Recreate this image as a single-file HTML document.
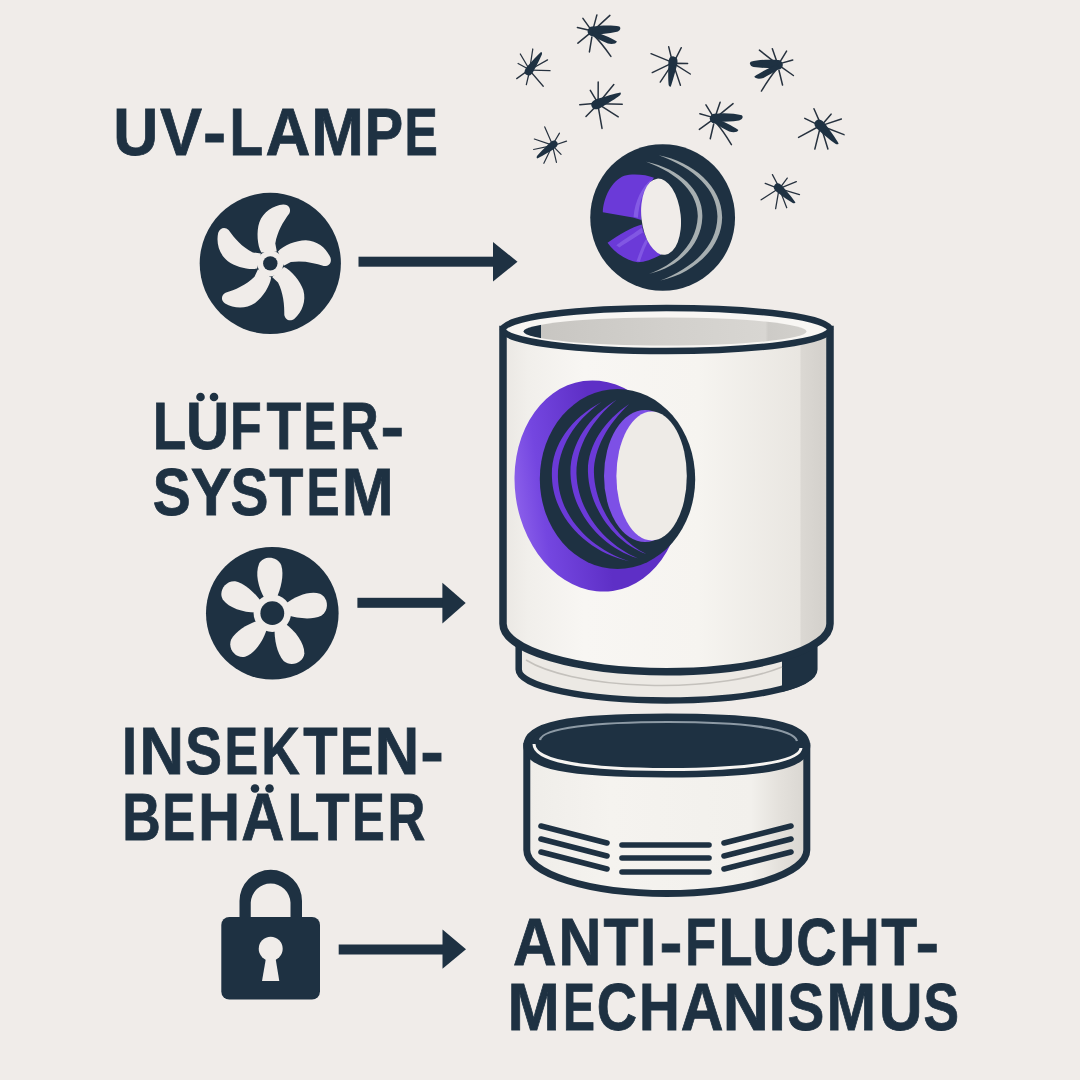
<!DOCTYPE html>
<html><head><meta charset="utf-8">
<style>
html,body{margin:0;padding:0;width:1080px;height:1080px;overflow:hidden;background:#F0ECE9;}
svg{display:block;}
.t{font-family:"Liberation Sans",sans-serif;font-weight:bold;font-size:66px;fill:#1E3142;stroke:#1E3142;stroke-width:0.8px;}
</style></head>
<body>
<svg width="1080" height="1080" viewBox="0 0 1080 1080">
<defs>
  <path id="b1" d="M -9,-11 C -13,-18 -14,-32 -11,-41 C -7,-52 3,-58 13,-59 C 19,-59 21,-54 19,-50 C 13,-42 7,-32 5,-20 L 6.5,-12 Z"/>
  <path id="b2" d="M -7,-14 C -13.5,-26 -16.5,-40 -12,-50 C -7.5,-57.5 5.5,-57.5 10,-48 C 13,-38 9,-24 4.5,-15 Z"/>
  <g id="mq">
    <g stroke="#27323F" stroke-width="1.5" stroke-linecap="round" fill="none">
      <path d="M1,-3 L4.5,-16 M5,-4 L17.5,-15.5 M-2,-2 L-9.5,-12.5 M-2,-0.5 L-15,-3.3 M-2,2 L-14.5,12.3 M-0.5,6 L-3,21 M2,5 Q9,12 18.5,25.5"/>
    </g>
    <ellipse cx="0" cy="0.5" rx="4.8" ry="4.8" fill="#1E3142"/>
    <path d="M0,-4.2 C8,-5.8 20,-6 27,-4.5 C29,-3 27.5,0 24.5,0.8 C16,2.5 8,3.5 0,3.8 Z" fill="#1E3142"/>
    <path d="M1,0.5 C8,2.5 18,6.5 24.5,10.5 C24,13 19,13.5 15.5,12.5 C10,10 5,8 0,5 Z" fill="#1E3142"/>
  </g>
  <g id="mq2">
    <g stroke="#27323F" stroke-width="1.5" stroke-linecap="round" fill="none">
      <path d="M1,-1 L-15,-7 M2,-2 L0.8,-15.5 M3,-2 L11.5,-19.5 M4,-1 L24.5,-10.5 M4,1 L23.5,11 M3,2 L14.5,20.5 M1,2 L-5.2,24 M0,1 L-14.5,6.3"/>
    </g>
    <path d="M-5,0 C-5,-4.8 0,-5.2 4.5,-4.5 C12,-3.2 22,-2 27,-0.5 C27.5,0.5 26.5,1.5 25,2 C20,3 12,4 4.5,4.5 C0,5.2 -5,4.8 -5,0 Z" fill="#1E3142"/>
  </g>
</defs>

<!-- TEXT -->
<text class="t" transform="translate(113.25,155.3) scale(0.9453,1)">U</text>
<text class="t" transform="translate(160.07,155.3) scale(0.9555,1)">V</text>
<text class="t" transform="translate(202.89,155.3) scale(1.0503,1)">-</text>
<text class="t" transform="translate(229.51,155.3) scale(0.8355,1)">L</text>
<text class="t" transform="translate(265.55,155.3) scale(0.9417,1)">A</text>
<text class="t" transform="translate(311.17,155.3) scale(0.9578,1)">M</text>
<text class="t" transform="translate(364.85,155.3) scale(0.8728,1)">P</text>
<text class="t" transform="translate(404.56,155.3) scale(0.7562,1)">E</text>
<text class="t" transform="translate(152.74,448.9) scale(0.8296,1)">L</text>
<text class="t" transform="translate(185.91,448.9) scale(0.9049,1)">U</text>
<text class="t" transform="translate(229.93,448.9) scale(0.7855,1)">F</text>
<text class="t" transform="translate(266.56,448.9) scale(0.8594,1)">T</text>
<text class="t" transform="translate(303.60,448.9) scale(0.7481,1)">E</text>
<text class="t" transform="translate(340.13,448.9) scale(0.8092,1)">R</text>
<text class="t" transform="translate(380.53,448.9) scale(1.0741,1)">-</text>
<text class="t" transform="translate(152.76,515.0) scale(0.8624,1)">S</text>
<text class="t" transform="translate(190.65,515.0) scale(0.9323,1)">Y</text>
<text class="t" transform="translate(230.46,515.0) scale(0.8624,1)">S</text>
<text class="t" transform="translate(269.17,515.0) scale(0.8465,1)">T</text>
<text class="t" transform="translate(306.47,515.0) scale(0.7535,1)">E</text>
<text class="t" transform="translate(341.83,515.0) scale(0.9448,1)">M</text>
<text class="t" transform="translate(121.88,774.3) scale(0.8205,1)">I</text>
<text class="t" transform="translate(139.48,774.3) scale(0.9330,1)">N</text>
<text class="t" transform="translate(185.31,774.3) scale(0.8346,1)">S</text>
<text class="t" transform="translate(224.43,774.3) scale(0.7643,1)">E</text>
<text class="t" transform="translate(261.23,774.3) scale(0.8092,1)">K</text>
<text class="t" transform="translate(303.37,774.3) scale(0.8517,1)">T</text>
<text class="t" transform="translate(340.03,774.3) scale(0.7643,1)">E</text>
<text class="t" transform="translate(374.68,774.3) scale(0.9330,1)">N</text>
<text class="t" transform="translate(420.13,774.3) scale(1.0741,1)">-</text>
<text class="t" transform="translate(122.24,840.3) scale(0.8074,1)">B</text>
<text class="t" transform="translate(162.53,840.3) scale(0.7400,1)">E</text>
<text class="t" transform="translate(198.23,840.3) scale(0.8763,1)">H</text>
<text class="t" transform="translate(241.31,840.3) scale(0.9056,1)">A</text>
<text class="t" transform="translate(287.63,840.3) scale(0.7854,1)">L</text>
<text class="t" transform="translate(315.68,840.3) scale(0.8388,1)">T</text>
<text class="t" transform="translate(352.34,840.3) scale(0.7373,1)">E</text>
<text class="t" transform="translate(387.59,840.3) scale(0.7949,1)">R</text>
<text class="t" transform="translate(513.10,965.3) scale(0.9146,1)">A</text>
<text class="t" transform="translate(558.43,965.3) scale(0.8995,1)">N</text>
<text class="t" transform="translate(603.56,965.3) scale(0.8697,1)">T</text>
<text class="t" transform="translate(640.00,965.3) scale(0.8836,1)">I</text>
<text class="t" transform="translate(659.61,965.3) scale(1.0443,1)">-</text>
<text class="t" transform="translate(685.31,965.3) scale(0.7675,1)">F</text>
<text class="t" transform="translate(718.80,965.3) scale(0.8385,1)">L</text>
<text class="t" transform="translate(752.23,965.3) scale(0.8999,1)">U</text>
<text class="t" transform="translate(796.20,965.3) scale(0.8505,1)">C</text>
<text class="t" transform="translate(839.59,965.3) scale(0.8402,1)">H</text>
<text class="t" transform="translate(881.24,965.3) scale(0.8903,1)">T</text>
<text class="t" transform="translate(915.53,965.3) scale(1.0741,1)">-</text>
<text class="t" transform="translate(507.60,1029.8) scale(0.9513,1)">M</text>
<text class="t" transform="translate(562.89,1029.8) scale(0.7265,1)">E</text>
<text class="t" transform="translate(596.81,1029.8) scale(0.8459,1)">C</text>
<text class="t" transform="translate(639.02,1029.8) scale(0.8557,1)">H</text>
<text class="t" transform="translate(680.63,1029.8) scale(0.8966,1)">A</text>
<text class="t" transform="translate(722.63,1029.8) scale(0.9665,1)">N</text>
<text class="t" transform="translate(768.62,1029.8) scale(0.9467,1)">I</text>
<text class="t" transform="translate(787.51,1029.8) scale(0.8346,1)">S</text>
<text class="t" transform="translate(826.52,1029.8) scale(0.9014,1)">M</text>
<text class="t" transform="translate(879.08,1029.8) scale(0.9125,1)">U</text>
<text class="t" transform="translate(923.57,1029.8) scale(0.8067,1)">S</text>
<circle cx="200.5" cy="397" r="4.3" fill="#1E3142"/>
<circle cx="214" cy="397" r="4.3" fill="#1E3142"/>
<circle cx="255" cy="788.5" r="4.3" fill="#1E3142"/>
<circle cx="269.5" cy="788.5" r="4.3" fill="#1E3142"/>

<!-- FAN 1 -->
<g transform="translate(270.3,263.4)">
  <circle r="70.6" fill="#1E3142"/>
  <g fill="#F0ECE9">
    <use href="#b1"/>
    <use href="#b1" transform="rotate(72)"/>
    <use href="#b1" transform="rotate(144)"/>
    <use href="#b1" transform="rotate(216)"/>
    <use href="#b1" transform="rotate(288)"/>
    <circle r="13"/>
  </g>
  <circle r="7.2" fill="#1E3142"/>
</g>
<!-- ARROW 1 -->
<rect x="358.5" y="256.7" width="136" height="10" fill="#1E3142"/>
<path d="M493,242 L517.5,261.7 L493,281.5 Z" fill="#1E3142"/>

<!-- FAN 2 -->
<g transform="translate(272.3,613.2)">
  <circle r="66.3" fill="#1E3142"/>
  <g fill="#F0ECE9">
    <use href="#b2" transform="rotate(-1.3)"/>
    <use href="#b2" transform="rotate(81.2)"/>
    <use href="#b2" transform="rotate(154.9)"/>
    <use href="#b2" transform="rotate(225.5)"/>
    <use href="#b2" transform="rotate(299)"/>
    <circle r="18.7"/>
  </g>
  <circle r="11.9" fill="#1E3142"/>
</g>
<!-- ARROW 2 -->
<rect x="357.4" y="597.8" width="86" height="10" fill="#1E3142"/>
<path d="M442.4,582.8 L465.7,603 L442.4,623.5 Z" fill="#1E3142"/>

<!-- LOCK -->
<path d="M239.5,917 L239.5,901 A31.25,31.25 0 0 1 302,901 L302,917 L290.5,917 L290.5,902.5 A19.9,19.9 0 0 0 250.75,902.5 L250.75,917 Z" fill="#1E3142"/>
<rect x="221.3" y="917" width="98.7" height="82.5" rx="8" fill="#1E3142"/>
<circle cx="270.7" cy="948.7" r="12" fill="#F0ECE9"/>
<path d="M266.5,955 L275,955 L279.3,981 L262,981 Z" fill="#F0ECE9"/>
<!-- ARROW 3 -->
<rect x="338.7" y="944.5" width="105" height="10" fill="#1E3142"/>
<path d="M442.5,929.5 L466,949.3 L442.5,968.8 Z" fill="#1E3142"/>

<!-- LAMP TOP -->
<g transform="translate(580,135) scale(0.15741)">
  <ellipse cx="525" cy="524" rx="460" ry="466" fill="#1E3142"/>
  <path d="M145,490 C148,400 200,290 281,259 C330,243 420,250 470,271 C420,340 392,430 390,540 L336,524 Z" fill="#6B3AD8"/>
  <path d="M175,684 C250,630 330,585 392,568 C410,650 450,720 516,759 C460,790 410,808 367,808 C300,800 220,750 175,684 Z" fill="#6B3AD8"/>
  <path d="M340,520 C350,420 390,330 465,272 L440,300 C400,360 375,430 368,525 Z" fill="#8F6AEB" opacity="0.7"/>
  <path d="M230,700 C290,660 350,620 392,590 L400,620 C350,650 290,690 250,715 Z" fill="#8F6AEB" opacity="0.6"/>
  <path d="M360,800 C380,740 400,690 420,660 L430,680 C410,720 395,760 380,805 Z" fill="#8F6AEB" opacity="0.6"/>
  <ellipse cx="515" cy="519" rx="125" ry="243" fill="#F0ECE9" transform="rotate(-6 515 519)"/>
  <path d="M420,170 C640,215 785,360 777,525 C770,690 640,835 440,882 C610,820 740,690 748,520 C752,380 640,250 420,170 Z" fill="#A7AFB1"/>
  <path d="M500,128 C720,170 905,330 903,525 C900,720 720,880 510,925 C700,850 870,720 873,520 C875,350 730,210 500,128 Z" fill="#A7AFB1"/>
</g>

<!-- MAIN CYLINDER -->
<defs>
  <linearGradient id="gBody" x1="502" y1="0" x2="830" y2="0" gradientUnits="userSpaceOnUse">
    <stop offset="0" stop-color="#EAE7E3"/>
    <stop offset="0.08" stop-color="#F1EFEB"/>
    <stop offset="0.25" stop-color="#F8F6F3"/>
    <stop offset="0.6" stop-color="#F6F4F0"/>
    <stop offset="0.908" stop-color="#E9E6E1"/>
    <stop offset="0.912" stop-color="#DBD8D3"/>
    <stop offset="0.97" stop-color="#D5D2CD"/>
    <stop offset="1" stop-color="#D8D5D0"/>
  </linearGradient>
  <linearGradient id="gIn" x1="524" y1="0" x2="808" y2="0" gradientUnits="userSpaceOnUse">
    <stop offset="0" stop-color="#1E3142"/>
    <stop offset="0.06" stop-color="#1E3142"/>
    <stop offset="0.061" stop-color="#C8C6C2"/>
    <stop offset="0.5" stop-color="#D2D0CC"/>
    <stop offset="0.85" stop-color="#D8D6D2"/>
    <stop offset="0.86" stop-color="#CDCBC7"/>
    <stop offset="1" stop-color="#D3D1CD"/>
  </linearGradient>
  <linearGradient id="gCont" x1="527" y1="0" x2="807" y2="0" gradientUnits="userSpaceOnUse">
    <stop offset="0" stop-color="#EFEDE9"/>
    <stop offset="0.3" stop-color="#F5F3EF"/>
    <stop offset="0.8" stop-color="#F2F0EC"/>
    <stop offset="0.9" stop-color="#E4E1DC"/>
    <stop offset="1" stop-color="#D9D6D1"/>
  </linearGradient>
  <linearGradient id="gPur" x1="515" y1="0" x2="600" y2="0" gradientUnits="userSpaceOnUse">
    <stop offset="0" stop-color="#8A5EEA"/>
    <stop offset="0.3" stop-color="#7446E0"/>
    <stop offset="1" stop-color="#5E2FC6"/>
  </linearGradient>
</defs>
<g>
  <!-- base ring -->
  <path d="M518.7,640 L518.7,669.5 A147.8,31 0 0 0 814.3,669.5 L814.3,640 Z" fill="#ECE9E4" stroke="#1E3142" stroke-width="6.5"/>
  <path d="M782,660 L814,640 L814,669.5 A147.8,31 0 0 1 782,692 Z" fill="#1E3142"/>
  <path d="M526,660 A150,45 0 0 0 782,667" stroke="#C4C1BC" stroke-width="1.5" fill="none"/>
  <!-- body -->
  <path d="M503,329.5 L503,623.7 A163.5,48 0 0 0 830,623.7 L830,329.5 Z" fill="url(#gBody)" stroke="#1E3142" stroke-width="7.5"/>
  <path d="M522,678 A147,22 0 0 0 790,678" stroke="#F8F6F3" stroke-width="3" fill="none" opacity="0"/>
  <!-- top rim -->
  <ellipse cx="666.5" cy="329.5" rx="163.5" ry="21.5" fill="#F8F6F3" stroke="#1E3142" stroke-width="6.5"/>
  <ellipse cx="665" cy="331.5" rx="141.5" ry="14" fill="url(#gIn)"/>
  <!-- hole -->
  <ellipse cx="598" cy="486" rx="83" ry="106" fill="url(#gPur)" transform="rotate(-8 598 486)"/>
  <ellipse cx="617.5" cy="479" rx="77.7" ry="90" fill="#1E3142"/>
  <g transform="translate(510,370) scale(0.21299)" fill="#6B3AD8">
    <path d="M430,150 C280,230 190,360 197,505 C203,690 360,855 560,898 C380,840 230,690 225,505 C222,370 300,240 430,150 Z"/>
    <path d="M500,140 C370,220 280,350 284,488 C290,660 420,830 600,884 C440,815 318,660 312,488 C310,360 385,235 500,140 Z"/>
    <path d="M560,160 C440,240 362,360 366,480 C372,640 480,805 640,864 C500,795 398,640 394,480 C394,370 458,255 560,160 Z"/>
  </g>
  <ellipse cx="645" cy="476" rx="41" ry="66" fill="#7D50E6"/>
  <ellipse cx="651.6" cy="476" rx="35.2" ry="64.5" fill="#EEEBE7"/>
</g>

<!-- CONTAINER -->
<g>
  <path d="M526.8,746.2 L526.8,850 A140,43.5 0 0 0 806.8,850 L806.8,746.2 Z" fill="url(#gCont)" stroke="#1E3142" stroke-width="7"/>
  <path d="M526.8,745.5 C526.8,725.0 566.0,717.0 666.8,717.0 C767.6,717.0 806.8,725.0 806.8,745.5 C806.8,766.0 767.6,774.0 666.8,774.0 C566.0,774.0 526.8,766.0 526.8,745.5 Z" fill="#1E3142" stroke="#1E3142" stroke-width="7"/>
  <path d="M534,744 C534,762 590,769.5 668,769.5 C746,769.5 800,762 801,748" stroke="#F7F5F2" stroke-width="3" fill="none"/>
  <path d="M540,740 C542,728 595,722 668,722 C741,722 794,728 797,741" stroke="#8D9AA5" stroke-width="2.2" fill="none"/>
  <g stroke="#1E3142" stroke-width="5.6" stroke-linecap="round" fill="none">
    <path d="M541,826 L607,843"/><path d="M541,839 L607,856"/><path d="M541,852 L607,869"/>
    <path d="M622,845 L709,845"/><path d="M622,858 L709,858"/><path d="M622,872 L709,872"/>
    <path d="M724,843 L791,826"/><path d="M724,856 L791,839"/><path d="M724,869 L791,852"/>
  </g>
</g>

<!-- MOSQUITOES -->
<use href="#mq" transform="translate(592.4,30.9)"/>
<use href="#mq2" transform="translate(528.7,71.3) rotate(-56.4) scale(0.85)"/>
<use href="#mq2" transform="translate(596.3,104.6) rotate(-25.7)"/>
<use href="#mq2" transform="translate(553.7,144.4) rotate(140.7) scale(0.8)"/>
<use href="#mq2" transform="translate(673.1,61.1) rotate(96.4) scale(0.95)"/>
<use href="#mq" transform="translate(778,64.3) rotate(-4.2) scale(-1,1)"/>
<use href="#mq" transform="translate(714.6,118) rotate(3.7)"/>
<use href="#mq2" transform="translate(819.4,124.4) rotate(45.8)"/>
<use href="#mq2" transform="translate(778,187.5) rotate(41.6) scale(0.85)"/>
</svg>
</body></html>
